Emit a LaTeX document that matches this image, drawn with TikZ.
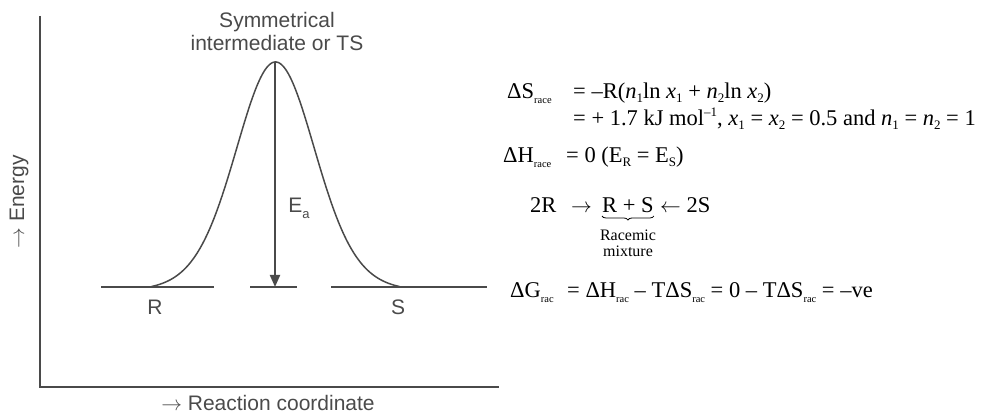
\documentclass[tikz,border=0pt]{standalone}
\usepackage{fontspec}
\setmainfont{Liberation Serif}
\newfontfamily\arial{Liberation Sans}
\usetikzlibrary{arrows.meta,decorations.pathreplacing}
\definecolor{gr}{HTML}{4A4A4A}
\newcommand{\lsub}[1]{\raisebox{-5pt}{\fontsize{10.5}{10.5}\selectfont #1}}
\newcommand{\nsub}[1]{\raisebox{-4pt}{\fontsize{13}{13}\selectfont #1}}
\newcommand{\nsup}[1]{\raisebox{9pt}{\fontsize{13}{13}\selectfont #1}}
\begin{document}
\begin{tikzpicture}[x=1pt,y=-1pt,
  axis/.style={draw=gr,line width=1.6pt},
  curve/.style={draw=gr,line width=1.5pt},
  lbl/.style={font=\arial\fontsize{21}{23}\selectfont,text=gr,inner sep=0pt},
  eq/.style={font=\fontsize{22.5}{25}\selectfont,anchor=base west,inner sep=0pt},
  small/.style={font=\fontsize{16}{17}\selectfont,inner sep=0pt}]
\useasboundingbox (0,0) rectangle (999,414);
% axes
\coordinate (ytop) at (40,16);
\coordinate (o) at (40,387);
\coordinate (xend) at (499,387);
\draw[axis] (ytop) -- (o) -- (xend);
% levels
\coordinate (r1) at (101,287); \coordinate (r2) at (214,287);
\coordinate (m1) at (250,287); \coordinate (m2) at (297,287);
\coordinate (s1) at (331,287); \coordinate (s2) at (487,287);
\draw[curve] (r1) -- (r2);
\draw[curve] (m1) -- (m2);
\draw[curve] (s1) -- (s2);
% barrier
\draw[curve] plot[domain=-124:124,samples=180,smooth]
  ({275.5+\x},{287-225*((0.55*exp(-0.5*((\x/35)^2))+0.45*exp(-0.5*((\x/48)^2))-0.015)/0.985)});
\coordinate (peak) at (275,62);
\coordinate (base) at (275,287);
\draw[draw=gr,line width=2pt,-{Triangle[length=12pt,width=10pt]}] (peak) -- (base);
% labels
\node[lbl,align=center] (ts) at (277,31) {Symmetrical\\intermediate or TS};
\node[lbl] (ea) at (299,208) {E\raisebox{-0.3em}{\fontsize{13}{13}\selectfont a}};
\node[lbl] (R) at (155,307) {R};
\node[lbl] (S) at (398,307) {S};
\node[lbl,rotate=90] (en) at (19,202) {$\rightarrow$ Energy};
\node[lbl] (rc) at (268,403) {$\rightarrow$ Reaction coordinate};
% equations
\node[eq] (s1l) at (507,99) {ΔS\lsub{race}};
\node[eq] (s1r) at (573,99) {= –R(\textit{n}\nsub{1}ln \textit{x}\nsub{1} + \textit{n}\nsub{2}ln \textit{x}\nsub{2})};
\node[eq] (s2r) at (573,126) {= + 1.7 kJ mol\nsup{–1}, \textit{x}\nsub{1} = \textit{x}\nsub{2} = 0.5 and \textit{n}\nsub{1} = \textit{n}\nsub{2} = 1};
\node[eq] (hl) at (503,163) {ΔH\lsub{race}};
\node[eq] (hr) at (566,163) {= 0 (E\nsub{R} = E\nsub{S})};
\node[eq] (twoR) at (530,213) {2R};
\node[eq] (ar1) at (571,213) {$\rightarrow$};
\node[eq] (rs) at (602,213) {R + S};
\node[eq] (ar2) at (660,213) {$\leftarrow$ 2S};
\draw[line width=0.8pt,decorate,decoration={brace,mirror,amplitude=4pt}] ([yshift=-3pt]rs.base west) -- ([yshift=-3pt]rs.base east);
\node[small] (rac) at (628,235) {Racemic};
\node[small] (mix) at (628,251) {mixture};
\node[eq] (gl) at (510,298) {ΔG\lsub{rac}};
\node[eq] (gr) at (567,298) {= ΔH\lsub{rac} – TΔS\lsub{rac} = 0 – TΔS\lsub{rac} = –ve};
\end{tikzpicture}
\end{document}
